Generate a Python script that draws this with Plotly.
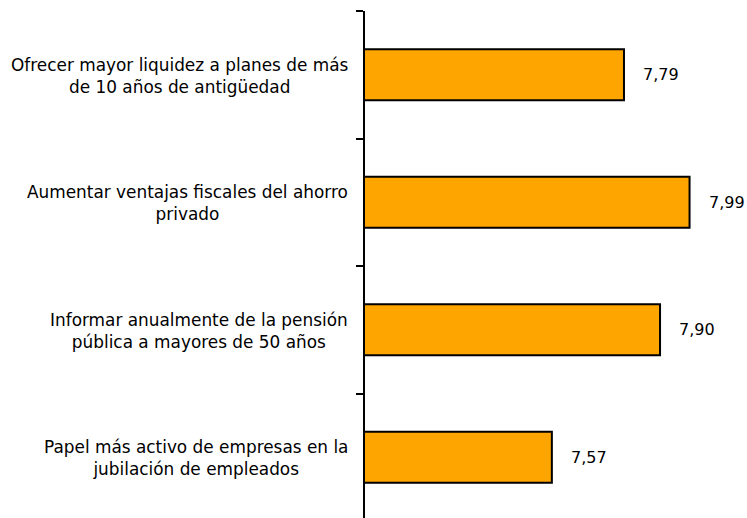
import plotly.graph_objects as go

# Categories listed bottom to top
categorias = [
    "Papel más activo de empresas en la<br>jubilación de empleados",
    "Informar anualmente de la pensión<br>pública a mayores de 50 años",
    "Aumentar ventajas fiscales del ahorro<br>privado",
    "Ofrecer mayor liquidez a planes de más<br>de 10 años de antigüedad",
]
valoraciones = [7.57, 7.90, 7.99, 7.79]

FONT = "DejaVu Sans"

fig = go.Figure(
    go.Bar(
        x=valoraciones,
        y=categorias,
        orientation="h",
        width=0.4,
        marker=dict(color="#FFA500", line=dict(color="#000000", width=2)),
        hoverinfo="skip",
    )
)

annotations = []
for cat, val in zip(categorias, valoraciones):
    # value label to the right of each bar
    annotations.append(dict(
        x=val, y=cat, xref="x", yref="y",
        text=f"{val:.2f}".replace(".", ","),
        showarrow=False, xanchor="left", xshift=17,
        font=dict(family=FONT, size=16, color="#000000"),
    ))
    # category label, lines centred, block right-aligned to the axis
    annotations.append(dict(
        x=0, y=cat, xref="paper", yref="y",
        text=cat, align="center",
        showarrow=False, xanchor="right", xshift=-15, yshift=-1,
        font=dict(family=FONT, size=16.9, color="#000000"),
    ))

fig.update_layout(
    width=747, height=518,
    margin=dict(l=365, r=5, t=11, b=0),
    paper_bgcolor="#FFFFFF",
    plot_bgcolor="#FFFFFF",
    showlegend=False,
    font=dict(family=FONT, size=16, color="#000000"),
    annotations=annotations,
    xaxis=dict(
        range=[7.0, 8.15],
        visible=False,
        showgrid=False,
        zeroline=False,
    ),
    yaxis=dict(
        type="category",
        range=[-0.476, 3.5],
        showline=True, linecolor="#000000", linewidth=2,
        ticks="outside", tickson="boundaries", ticklen=7,
        tickcolor="#000000", tickwidth=2,
        showticklabels=False,
        showgrid=False,
    ),
)

fig.write_html("out.html")
